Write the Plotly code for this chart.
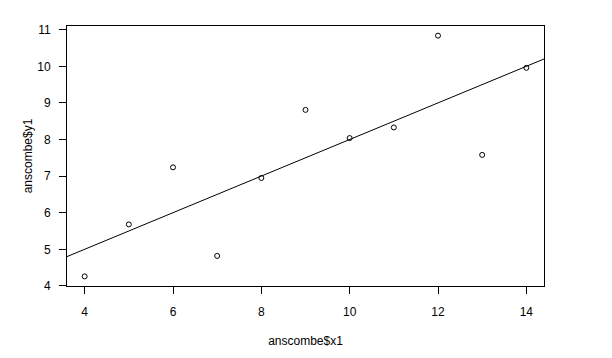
import numpy as np
import plotly.graph_objects as go

x1 = [10, 8, 13, 9, 11, 14, 6, 4, 12, 7, 5]
y1 = [8.04, 6.95, 7.58, 8.81, 8.33, 9.96, 7.24, 4.26, 10.84, 4.82, 5.68]
x_ticks = [4, 6, 8, 10, 12, 14]
y_ticks = [4, 5, 6, 7, 8, 9, 10, 11]

def rrange(v):
    lo, hi = min(v), max(v)
    d = (hi - lo) * 0.04
    return [lo - d, hi + d]

xr = rrange(x1)
yr = rrange(y1)
slope, intercept = np.polyfit(x1, y1, 1)
lx = np.array(xr)
ly = intercept + slope * lx

font = dict(family="Liberation Sans, Arial, sans-serif", size=12, color="black")

fig = go.Figure()
fig.add_trace(go.Scatter(x=x1, y=y1, mode="markers",
                         marker=dict(symbol="circle-open", size=5, color="black",
                                     line=dict(width=1, color="black")),
                         showlegend=False, cliponaxis=False))
fig.add_trace(go.Scatter(x=lx, y=ly, mode="lines",
                         line=dict(color="black", width=1), showlegend=False))

axis_common = dict(showline=True, linecolor="black", linewidth=1, mirror=True,
                   ticks="outside", ticklen=7, tickcolor="black", tickwidth=1,
                   showgrid=False, zeroline=False, tickfont=font)

fig.update_xaxes(range=xr, tickvals=x_ticks, ticktext=[str(t) for t in x_ticks],
                 ticklabelstandoff=8,
                 title=dict(text="anscombe$x1", font=font, standoff=18), **axis_common)
fig.update_yaxes(range=yr, tickvals=y_ticks, ticktext=[str(t) for t in y_ticks],
                 ticklabelstandoff=6,
                 title=dict(text="anscombe$y1", font=font, standoff=2), **axis_common)

fig.update_layout(width=612, height=358, margin=dict(l=67, r=68, t=26, b=68),
                  paper_bgcolor="white", plot_bgcolor="white", font=font)

fig.write_html("out.html")
